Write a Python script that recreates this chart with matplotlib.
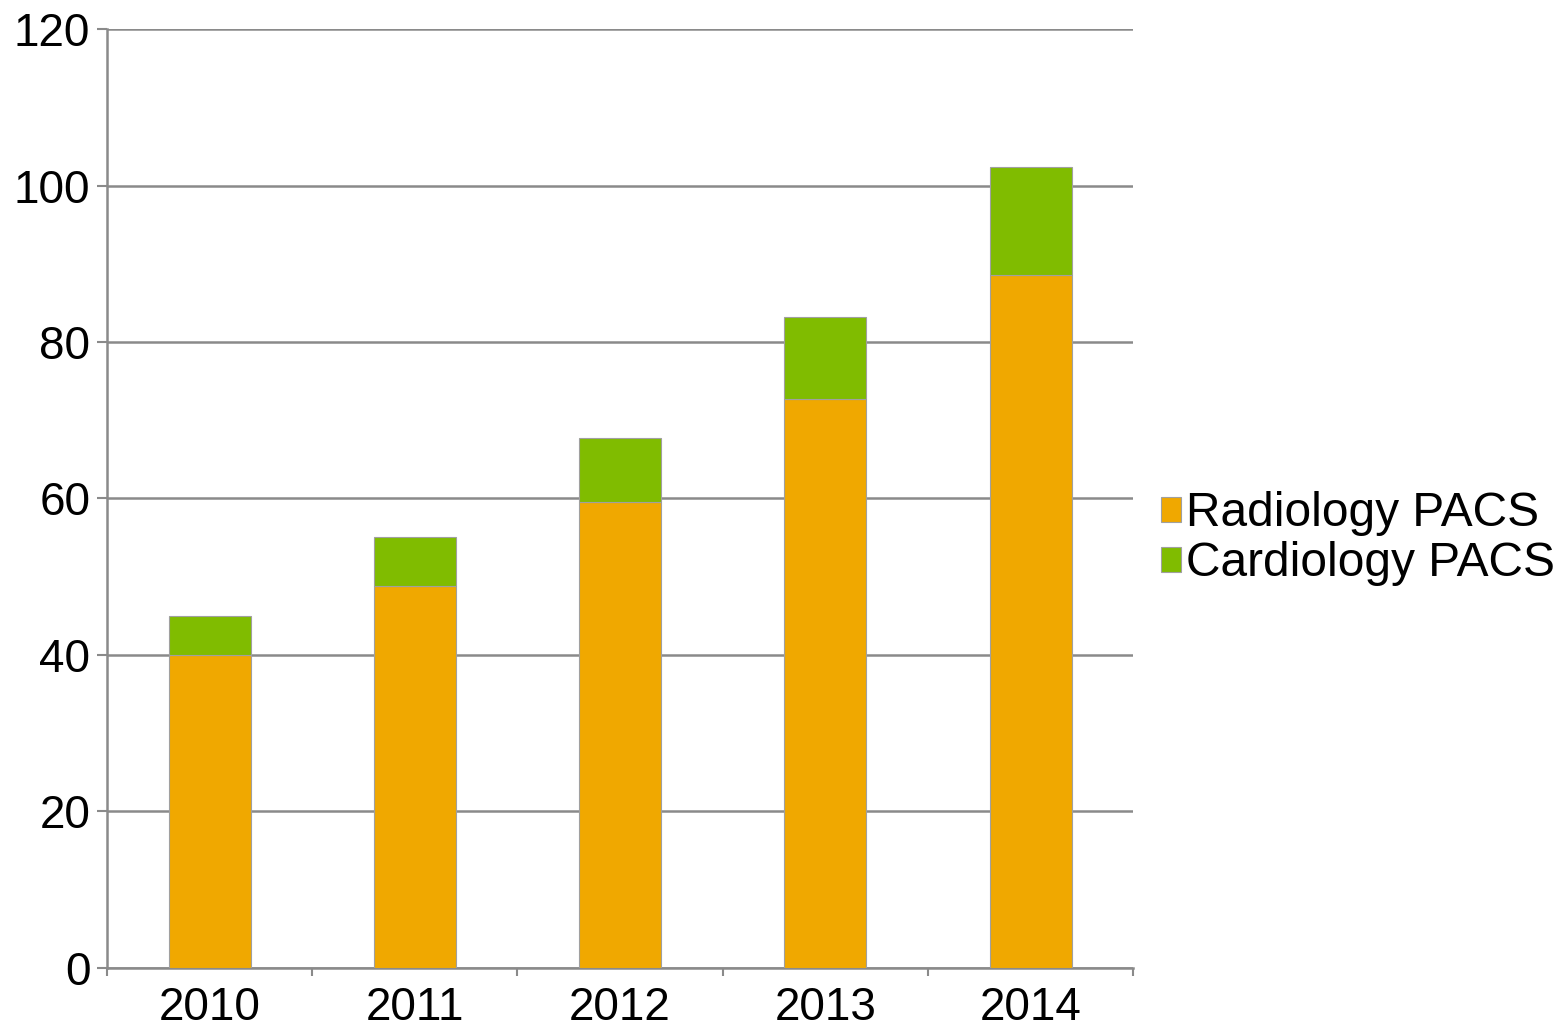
"""Stacked bar chart: PACS installations by year."""

import matplotlib

matplotlib.use("Agg", force=True)
import matplotlib.pyplot as plt
import numpy as np

years = ["2010", "2011", "2012", "2013", "2014"]
radiology = [40, 48.8, 59.6, 72.7, 88.6]
cardiology = [5, 6.3, 8.1, 10.5, 13.8]
y_ticks = [0, 20, 40, 60, 80, 100, 120]

ORANGE = "#F0A800"
GREEN = "#80BC00"
GRID = "#8a8a8a"

plt.rcParams["font.family"] = ["Liberation Sans", "DejaVu Sans"]

fig = plt.figure(figsize=(15.62, 10.29), dpi=100)
ax = fig.add_axes([0.0685, 0.0593, 0.657, 0.9125])

x = np.arange(len(years))
ax.bar(x, radiology, width=0.4, color=ORANGE, edgecolor="#a0a0a0", linewidth=0.8,
       label="Radiology PACS", zorder=3)
ax.bar(x, cardiology, width=0.4, bottom=radiology, color=GREEN, edgecolor="#a0a0a0",
       linewidth=0.8, label="Cardiology PACS", zorder=3)

ax.set_xlim(-0.5, len(years) - 0.5)
ax.set_ylim(0, 120)
ax.set_yticks(y_ticks)
ax.set_xticks(x)
ax.set_xticklabels(years)
ax.set_xticks(np.arange(len(years) + 1) - 0.5, minor=True)

ax.yaxis.grid(True, color=GRID, linewidth=1.8, zorder=0)
ax.set_axisbelow(True)
for side in ("top", "right"):
    ax.spines[side].set_visible(False)
for side in ("left", "bottom"):
    ax.spines[side].set_color(GRID)
    ax.spines[side].set_linewidth(1.8)

ax.tick_params(axis="y", length=7, width=1.5, color=GRID, labelsize=33, pad=5)
ax.tick_params(axis="x", which="major", length=0, labelsize=33, pad=13)
ax.tick_params(axis="x", which="minor", length=6, width=1.5, color=GRID)

leg = ax.legend(loc="center left", bbox_to_anchor=(1.008, 0.457), frameon=False,
                fontsize=34.5, handlelength=0.42, handleheight=0.42,
                handletextpad=0.12, labelspacing=0.1, borderaxespad=0)

fig.savefig("out.png", dpi=100)
plt.close(fig)
